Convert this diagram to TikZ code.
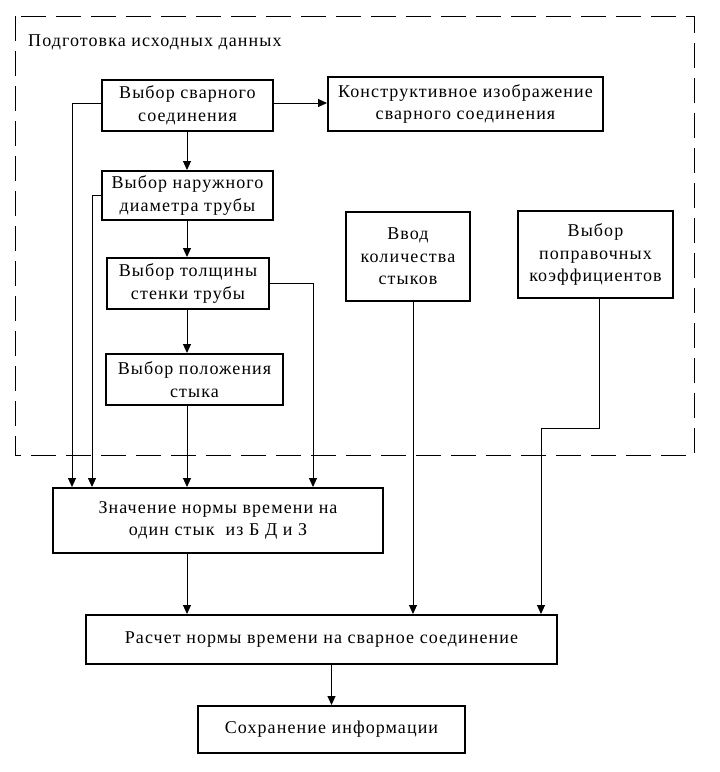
\documentclass[tikz,border=0pt]{standalone}
\usepackage{fontspec}
\setmainfont{Liberation Serif}[LetterSpace=6]
\usetikzlibrary{arrows.meta}
\begin{document}
\begin{tikzpicture}[x=1pt,y=-1pt,
  box/.style={draw, line width=2pt, align=center, inner sep=0pt,
    font=\fontsize{18}{22.5}\selectfont},
  conn/.style={line width=1pt, -{Triangle[length=9pt,width=8pt]}},
  frame/.style={line width=1pt, dash pattern=on 25pt off 10pt}]
\useasboundingbox (0,0) rectangle (720,772);
\draw[frame] (15,16) rectangle (694,455);
\node[anchor=west, inner sep=0pt, font=\fontsize{18}{22}\selectfont] (title) at (28,42) {Подготовка исходных данных};

\node[box, minimum width=171pt, minimum height=51pt] (b1) at (187.5,105.5) {Выбор сварного\\соединения};
\node[box, minimum width=275pt, minimum height=54pt] (k) at (465.5,104) {Конструктивное изображение\\сварного соединения};
\node[box, minimum width=171pt, minimum height=49pt] (b2) at (187.5,195.5) {Выбор наружного\\диаметра трубы};
\node[box, minimum width=162pt, minimum height=51pt] (b3) at (188,283.5) {Выбор толщины\\стенки трубы};
\node[box, minimum width=177pt, minimum height=51pt] (b4) at (194.5,379.5) {Выбор положения\\стыка};
\node[box, minimum width=124pt, minimum height=89pt] (vv) at (408,256.5) {Ввод\\количества\\стыков};
\node[box, minimum width=155pt, minimum height=87pt] (pp) at (595.5,254.5) {Выбор\\поправочных\\коэффициентов};
\node[box, minimum width=330pt, minimum height=65pt] (zn) at (218,520.5) {Значение нормы времени на\\один стык\ \ из Б Д и З};
\node[box, minimum width=471pt, minimum height=49pt] (ras) at (321.5,639.5) {Расчет нормы времени на сварное соединение};
\node[box, minimum width=267pt, minimum height=47pt] (sok) at (331.5,729.5) {Сохранение информации};

\coordinate (xa) at (72,0);
\coordinate (xb) at (92,0);
\coordinate (xc) at (187,0);
\coordinate (xd) at (313,0);
\coordinate (xe) at (413,0);
\coordinate (xf) at (599,0);
\coordinate (xg) at (541,0);
\coordinate (ya) at (0,103);
\coordinate (yb) at (0,428);

\draw[conn] (b1.east |- ya) -- (k.west |- ya);
\draw[conn] (xc |- b1.south) -- (xc |- b2.north);
\draw[conn] (xc |- b2.south) -- (xc |- b3.north);
\draw[conn] (xc |- b3.south) -- (xc |- b4.north);
\draw[conn] (xc |- b4.south) -- (xc |- zn.north);
\draw[conn] (xc |- zn.south) -- (xc |- ras.north);
\draw[conn] (b1.west |- ya) -| (xa |- zn.north);
\draw[conn] (b2.west) -| (xb |- zn.north);
\draw[conn] (b3.east) -| (xd |- zn.north);
\draw[conn] (xe |- vv.south) -- (xe |- ras.north);
\draw[conn] (xf |- pp.south) |- (xg |- yb) -- (xg |- ras.north);
\draw[conn] (ras.south -| sok.north) -- (sok.north);
\end{tikzpicture}
\end{document}
